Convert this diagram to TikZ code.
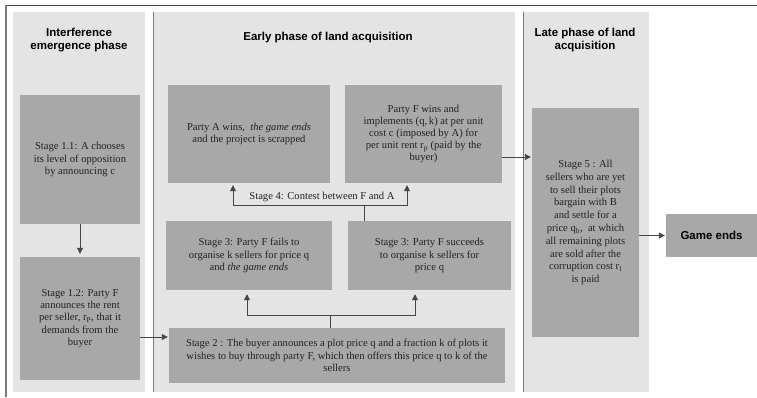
\documentclass[tikz,border=0pt]{standalone}
\usepackage{fontspec}
\setmainfont{Liberation Serif}
\newfontfamily\headfont{Liberation Sans}
\usetikzlibrary{arrows.meta}
\definecolor{panelbg}{HTML}{E4E4E4}
\definecolor{boxbg}{HTML}{A8A8A8}
\definecolor{linec}{HTML}{454545}
\definecolor{framec}{HTML}{7A7A7A}
\definecolor{txtc}{HTML}{222222}
\begin{document}
\begin{tikzpicture}[x=1pt,y=-1pt,
  panel/.style={fill=panelbg, draw=none},
  stagebox/.style={fill=boxbg, draw=none, inner sep=0pt, align=center, text=txtc,
    font=\fontsize{10.6}{12.2}\selectfont},
  headtext/.style={align=center, inner sep=0pt, text=black,
    font=\headfont\bfseries\fontsize{11.5}{12.5}\selectfont},
  conn/.style={draw=linec, line width=0.9pt},
  arr/.style={conn, -{Triangle[length=6pt,width=6pt]}}
]
\useasboundingbox (0,0) rectangle (757,397);
% frame lines
\draw[line width=1pt, draw=linec] (5,5) -- (757,5);
\draw[line width=2pt, draw=framec] (6,4.5) -- (6,397);
% panels
\fill[panel] (13,12) rectangle (145,392);
\fill[panel] (153,12) rectangle (515,392);
\fill[panel] (523,12) rectangle (649,392);
\draw[draw=framec, line width=0.7pt] (153,12) -- (153,392);
\draw[draw=framec, line width=0.7pt] (523,12) -- (523,392);
% titles
\node[headtext] (t1) at (79,40) {Interference\\emergence phase};
\node[headtext] (t2) at (328,38) {Early phase of land acquisition};
\node[headtext] (t3) at (585,40) {Late phase of land\\acquisition};
% boxes
\node[stagebox, minimum width=120, minimum height=129] (s11) at (80,159.5)
  {Stage 1.1: A chooses\\its level of opposition\\by announcing c};
\node[stagebox, minimum width=120, minimum height=123] (s12) at (80,318.5)
  {Stage 1.2: Party F\\announces the rent\\per seller, r\textsubscript{P}, that it\\demands from the\\buyer};
\node[stagebox, minimum width=162, minimum height=98] (aw) at (249,134)
  {Party A wins,~ \textit{the game ends}\\and the project is scrapped};
\node[stagebox, minimum width=157, minimum height=98] (fw) at (423.5,134)
  {Party F wins and\\implements (q,\,k) at per unit\\cost c (imposed by A) for\\per unit rent r\textsubscript{p} (paid by the\\buyer)};
\node[stagebox, minimum width=166, minimum height=69] (s3f) at (249,255.5)
  {Stage 3: Party F fails to\\organise k sellers for price q\\and \textit{the game ends}};
\node[stagebox, minimum width=163, minimum height=69] (s3s) at (429.5,255.5)
  {Stage 3: Party F succeeds\\to organise k sellers for\\price q};
\node[stagebox, minimum width=336, minimum height=55] (s2) at (337,355.5)
  {Stage 2 : The buyer announces a plot price q and a fraction k of plots it\\wishes to buy through party F, which then offers this price q to k of the\\sellers};
\node[stagebox, minimum width=107, minimum height=229, font=\fontsize{10.6}{12.8}\selectfont] (s5) at (585.5,222.5)
  {Stage 5 : All\\sellers who are yet\\to sell their plots\\bargain with B\\and settle for a\\price q\textsubscript{b},~ at which\\all remaining plots\\are sold after the\\corruption cost r\textsubscript{l}\\is paid};
\node[stagebox, minimum width=91, minimum height=43, font=\headfont\bfseries\fontsize{11.5}{12.5}\selectfont, text=black] (ge) at (711.5,235.5) {Game ends};
% stage 4 label
\node[inner sep=0pt, text=txtc, font=\fontsize{10.6}{12.2}\selectfont] (s4) at (322,197) {Stage 4: Contest between F and A};
% connector anchor points
\coordinate (a12) at ([yshift=-18.5pt]s12.east);
\coordinate (afw) at ([yshift=-23pt]fw.east);
\coordinate (j2) at (330,315);
\coordinate (j4) at (364,205);
\coordinate (e3f) at ([xshift=-2pt]s3f.south);
\coordinate (e3s) at ([xshift=-14.5pt]s3s.south);
\coordinate (eaw) at ([xshift=-16pt]aw.south);
\coordinate (efw) at ([xshift=-16.5pt]fw.south);
% connectors
\draw[arr, shorten >=3pt] (s11.south) -- (s12.north);
\draw[arr, shorten >=1pt] (a12) -- (s2.west |- a12);
\draw[arr, shorten >=1pt] (afw) -- (s5.west |- afw);
\draw[arr, shorten >=1pt] (s5.east |- ge.west) -- (ge.west);
% stage 2 -> stage 3
\draw[conn] (j2 |- s2.north) -- (j2);
\draw[arr, shorten >=4pt] (j2) -| (e3f);
\draw[arr, shorten >=4pt] (j2) -| (e3s);
% stage 3 -> stage 4 outcomes
\draw[conn] (j4 |- s3s.north) -- (j4);
\draw[arr, shorten >=2pt] (j4) -| (eaw);
\draw[arr, shorten >=2pt] (j4) -| (efw);
\end{tikzpicture}
\end{document}
